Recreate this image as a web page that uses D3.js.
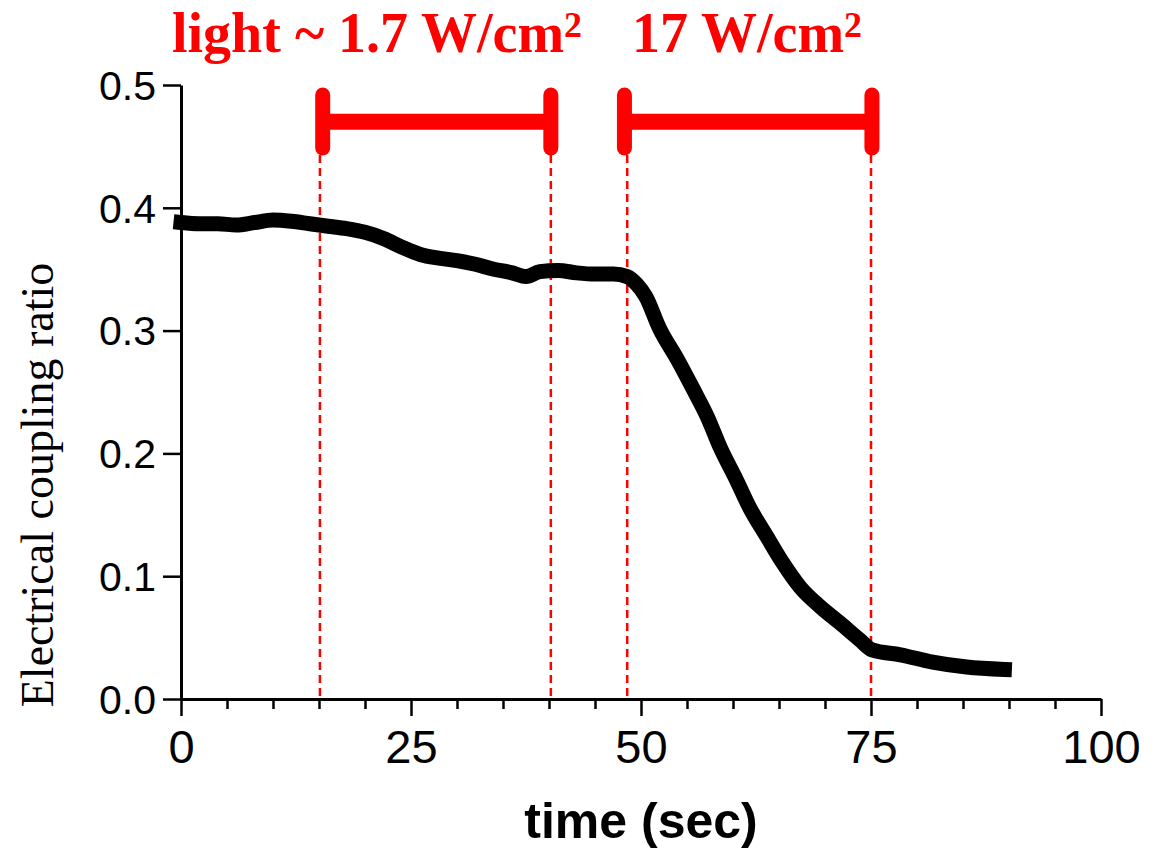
<!DOCTYPE html>
<html>
<head>
<meta charset="utf-8">
<script src="https://cdn.jsdelivr.net/npm/d3@7"></script>
<style>
  html, body { margin: 0; padding: 0; background: #fff; }
  svg { display: block; }
</style>
</head>
<body>
<div id="chart"></div>
<script>
// ---- data ----
const times = [0, 2, 4, 6, 8, 10, 12, 14, 16, 18, 20, 22, 24, 26, 28, 30, 32, 34, 36, 37.5, 39, 41, 43, 45, 47, 48.5, 49.5, 50.5, 52, 54, 55.7, 57.2, 58.6, 60.4, 61.8, 63.7, 65.4, 67.3, 69.5, 71.6, 73.8, 75.1, 78.2, 81.7, 85.4, 89.5];
const ratios = [0.388, 0.387, 0.387, 0.386, 0.388, 0.390, 0.389, 0.387, 0.385, 0.383, 0.380, 0.375, 0.368, 0.362, 0.359, 0.357, 0.354, 0.350, 0.347, 0.344, 0.348, 0.349, 0.347, 0.346, 0.346, 0.344, 0.338, 0.328, 0.302, 0.276, 0.252, 0.230, 0.205, 0.178, 0.156, 0.132, 0.111, 0.091, 0.075, 0.062, 0.048, 0.040, 0.036, 0.030, 0.026, 0.024];
const xTicks = [0, 25, 50, 75, 100];
const xMinorTicks = [5, 10, 15, 20, 30, 35, 40, 45, 55, 60, 65, 70, 80, 85, 90, 95];
const yTicks = [0, 0.1, 0.2, 0.3, 0.4, 0.5];
const dashedTimes = [15.1, 40.2, 48.5, 75.0];
const barStarts = [15.4, 48.2];
const barEnds = [40.2, 75.1];
const barLevel = 0.470;
const capTop = 0.4975;
const capBottom = 0.443;
const title1 = "light ~ 1.7 W/cm";
const title2 = "17 W/cm";
const xLabel = "time (sec)";
const yLabel = "Electrical coupling ratio";

// ---- layout ----
const W = 1157, H = 849;
const x0 = 181, x1 = 1101, yBottom = 699, yTop = 85;

const svg = d3.select("#chart").append("svg").attr("width", W).attr("height", H);

const x = d3.scaleLinear().domain([0, 100]).range([x0, x1]);
const y = d3.scaleLinear().domain([0, 0.5]).range([yBottom, yTop]);

const red = "#ff0000";

// dashed vertical lines
svg.append("g").selectAll("line").data(dashedTimes).join("line")
  .attr("x1", d => x(d)).attr("x2", d => x(d))
  .attr("y1", y(capBottom)).attr("y2", y(0))
  .attr("stroke", red).attr("stroke-width", 2.5)
  .attr("stroke-dasharray", "8,5");

// data curve
const line = d3.line().x((d, i) => x(times[i])).y(d => y(d)).curve(d3.curveMonotoneX);
svg.append("path").datum(ratios)
  .attr("d", line)
  .attr("fill", "none").attr("stroke", "#000")
  .attr("stroke-width", 15).attr("stroke-linejoin", "round").attr("stroke-linecap", "square");

// axes
const xAxis = svg.append("g").attr("transform", `translate(0,${yBottom})`)
  .call(d3.axisBottom(x).tickValues(xTicks).tickSize(17).tickSizeOuter(0).tickPadding(10).tickFormat(d3.format("d")));
const xMinor = svg.append("g").attr("transform", `translate(0,${yBottom})`)
  .call(d3.axisBottom(x).tickValues(xMinorTicks).tickSize(10).tickSizeOuter(0).tickFormat(""));
xMinor.select(".domain").remove();
const yAxis = svg.append("g").attr("transform", `translate(${x0},0)`)
  .call(d3.axisLeft(y).tickValues(yTicks).tickSize(18).tickSizeOuter(0).tickPadding(7).tickFormat(d3.format(".1f")));

[xAxis, xMinor, yAxis].forEach(g => {
  g.selectAll(".domain").attr("stroke", "#000").attr("stroke-width", 3);
  g.selectAll(".tick line").attr("stroke", "#000").attr("stroke-width", 2.5);
  g.selectAll(".tick text").attr("fill", "#000")
    .style("font-family", "'Liberation Sans', Arial, sans-serif");
});
xAxis.selectAll(".tick text").style("font-size", "47px").attr("dy", "0.78em");
yAxis.selectAll(".tick text").style("font-size", "41px").attr("dy", "0.35em");

// axis titles
svg.append("text").attr("x", (x0 + x1) / 2).attr("y", 838)
  .attr("text-anchor", "middle")
  .style("font-family", "'Liberation Sans', Arial, sans-serif").style("font-weight", "bold").style("font-size", "50px")
  .text(xLabel);

svg.append("text").attr("transform", `translate(53,485) rotate(-90)`)
  .attr("text-anchor", "middle")
  .style("font-family", "'Liberation Serif', 'Times New Roman', serif").style("font-size", "46px")
  .text(yLabel);

// red bars with caps
const bars = svg.append("g");
barStarts.forEach((s, i) => {
  const e = barEnds[i];
  bars.append("line")
    .attr("x1", x(s)).attr("x2", x(e)).attr("y1", y(barLevel)).attr("y2", y(barLevel))
    .attr("stroke", red).attr("stroke-width", 16);
  [s, e].forEach(t => {
    bars.append("line")
      .attr("x1", x(t)).attr("x2", x(t))
      .attr("y1", y(capTop) + 7).attr("y2", y(capBottom) - 7)
      .attr("stroke", red).attr("stroke-width", 15).attr("stroke-linecap", "round");
  });
});

// titles
const tfont = "'Liberation Serif', 'Times New Roman', serif";
function title(txt, xpos) {
  const t = svg.append("text").attr("x", xpos).attr("y", 52)
    .attr("fill", red)
    .style("font-family", tfont).style("font-weight", "bold").style("font-size", "56px")
    .text(txt);
  t.append("tspan").attr("dy", "-0.42em").style("font-size", "36px").text("2");
}
title(title1, 172);
title(title2, 632);
</script>
</body>
</html>
